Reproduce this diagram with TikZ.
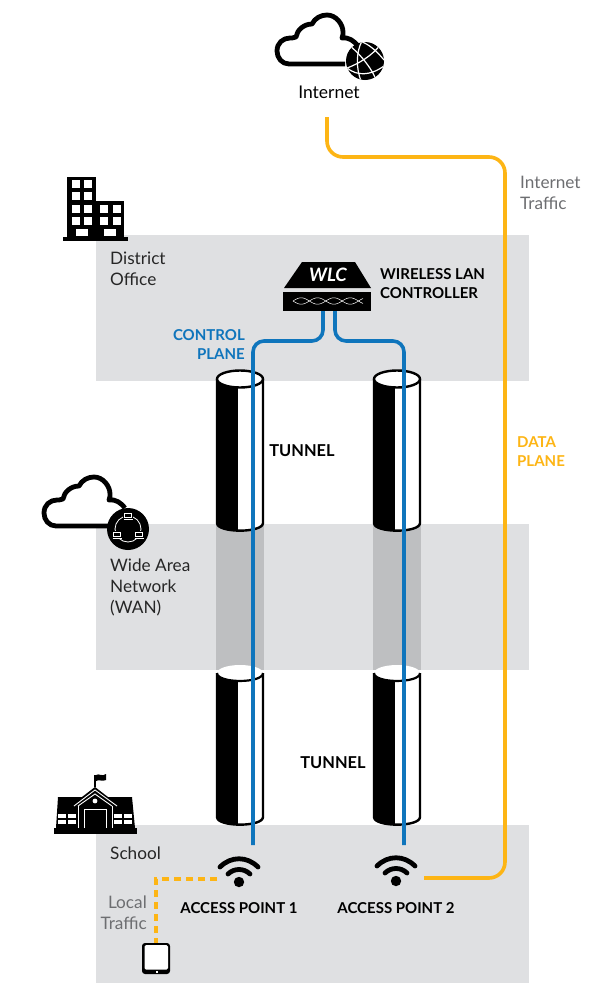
\documentclass[tikz,border=0pt]{standalone}
\usepackage{fontspec}
\usetikzlibrary{calc}
\setmainfont{Lato}
\definecolor{bandgray}{HTML}{DFE0E2}
\definecolor{darkband}{HTML}{BEBFC1}
\definecolor{ctrlblue}{HTML}{0F75BC}
\definecolor{datayellow}{HTML}{FDB515}
\definecolor{softgray}{HTML}{6D6E71}
\newcommand{\tunnelcyl}[3]{%
  \begin{scope}
    \path[clip] ({#1-23},#2) -- ({#1-23},{#3-8}) .. controls ({#1-23},{#3+2.2}) and ({#1+23},{#3+2.2}) .. ({#1+23},{#3-8}) -- ({#1+23},#2) -- cycle;
    \fill[white] ({#1-24},{#2-1}) rectangle ({#1+24},{#3+3});
    \fill[black] ({#1-24},{#2-1}) rectangle ({#1-2.5},{#3+3});
  \end{scope}
  \draw[black,line width=2.4pt] ({#1-23},#2) -- ({#1-23},{#3-8}) .. controls ({#1-23},{#3+2.2}) and ({#1+23},{#3+2.2}) .. ({#1+23},{#3-8}) -- ({#1+23},#2);
}
\newcommand{\wifiicon}[2]{%
  \fill (#1,#2) circle[radius=5.2pt];
  \draw[line width=4.8pt,line cap=round] ({#1-11},{#2-8}) .. controls ({#1-5},{#2-14}) and ({#1+5},{#2-14}) .. ({#1+11},{#2-8});
  \draw[line width=4.8pt,line cap=round] ({#1-19},{#2-15}) .. controls ({#1-8},{#2-26}) and ({#1+8},{#2-26}) .. ({#1+19},{#2-15});
}
\newcommand{\cloudshape}{%
  \draw[line width=4.8pt,line join=round] (345,64) -- (289,64) .. controls (282,64) and (277,58) .. (277,51) .. controls (277,43) and (283,38) .. (290,38) .. controls (291,38) and (294,38) .. (296,37) .. controls (297,30) and (304,24) .. (312,24) .. controls (315,18) and (321,15) .. (327,15) .. controls (336,15) and (343,24) .. (343,32) .. controls (343,34) and (343,36) .. (342,38) .. controls (349,37) and (354,41) .. (358,46);
}
\tikzset{
  band/.style={fill=bandgray,draw=none},
  label text/.style={font=\fontsize{17.2}{21}\selectfont,text=black!85,align=left,inner sep=0pt},
  gray text/.style={font=\fontsize{17.2}{21}\selectfont,text=softgray,inner sep=0pt},
  caps text/.style={font=\fontsize{15}{18.5}\selectfont\bfseries,text=black,inner sep=0pt,align=left},
  ctrl line/.style={draw=ctrlblue,line width=3.6pt,rounded corners=11pt},
  data line/.style={draw=datayellow,line width=3.6pt,rounded corners=16pt},
  local line/.style={draw=datayellow,line width=3.6pt,dash pattern=on 7pt off 5pt},
  anchor box/.style={draw=none,inner sep=0pt,outer sep=0pt}
}
\begin{document}
\begin{tikzpicture}[x=1pt,y=-1pt]
\useasboundingbox (0,0) rectangle (591,983);
\fill[white] (0,0) rectangle (591,983);
% bands
\path[band] (96,235) rectangle (529,381);
\path[band] (96,524) rectangle (529,670);
\path[band] (96,825) rectangle (529,983);
\fill[darkband] (216,524) rectangle (264,670);
\fill[darkband] (373,524) rectangle (421,670);
% upper cylinders
\tunnelcyl{240}{379}{531}
\tunnelcyl{397}{379}{531}
\foreach \cx in {240,397}{
  \draw[black,line width=2.4pt,fill=white] (\cx,379) ellipse[x radius=23pt,y radius=8.5pt];
}
% lower cylinders
\tunnelcyl{240}{673}{825}
\tunnelcyl{397}{673}{825}
\foreach \cx in {240,397}{
  \fill[white] (\cx,673) ellipse[x radius=23pt,y radius=8pt];
  \draw[black,line width=2.2pt] ({\cx-23},673) .. controls ({\cx-23},683.6) and ({\cx+23},683.6) .. ({\cx+23},673);
}
% WLC
\fill (302,262) -- (355,262) -- (371,288) -- (284,288) -- cycle;
\node[anchor box,fill=black,minimum width=88pt,minimum height=19pt] (wlcbase) at (327,301.5) {};
\node[inner sep=0pt,text=white,font=\fontsize{18.5}{18.5}\selectfont\bfseries\itshape] (wlctext) at (328,275) {WLC};
\draw[white,line width=.5pt] plot[domain=293:363,samples=80,smooth] (\x,{301+3.2*sin(11*(\x-293))});
\draw[white,line width=.5pt] plot[domain=293:363,samples=80,smooth] (\x,{301-3.2*sin(11*(\x-293))});
\node[caps text,anchor=north west] (wlclabel) at (380,268.5) {WIRELESS LAN\\CONTROLLER};
% anchors for icons
\node[anchor box,minimum width=42pt,minimum height=30pt] (ap1) at (239,872) {};
\node[anchor box,minimum width=42pt,minimum height=30pt] (ap2) at (396,871) {};
\node[anchor box,minimum width=28pt,minimum height=31pt] (tablet) at (156,958.5) {};
\node[inner sep=0pt,font=\fontsize{17.5}{20}\selectfont,text=black] (internet) at (329,92) {Internet};
\coordinate (datastart) at (327,117);
\coordinate (ap1stub) at (217,879);
\coordinate (ap2stub) at (424,878);
% connectors
\draw[ctrl line] ($(wlcbase.south)+(-4,0)$) |- (253,341) -- (253,845);
\draw[ctrl line] ($(wlcbase.south)+(8,0)$) |- (404,341) -- (404,845);
\draw[data line] (datastart) |- (505,157) |- (ap2stub);
\draw[local line] (ap1stub) -- (156,879) -- (tablet.north);
% wifi
\wifiicon{239}{882}
\wifiicon{396}{881}
% tablet
\fill[black,rounded corners=3pt] (142,943) rectangle (170,974);
\fill[white,rounded corners=1.5pt] (144.5,945) rectangle (168,969.5);
\fill[white] (155.8,970.8) rectangle (157.6,973);
% internet cloud and globe
\cloudshape
\fill (365,61) circle[radius=19pt];
\begin{scope}
  \clip (365,61) circle[radius=19pt];
  \draw[white,line width=1.2pt] (347,68) .. controls (358,64) and (372,56) .. (381,44);
  \draw[white,line width=1.2pt] (350,46) .. controls (358,52) and (372,68) .. (376,80);
  \draw[white,line width=1.2pt] (362,41) .. controls (356,52) and (356,68) .. (361,81);
  \draw[white,line width=1.2pt] (347,68) .. controls (357,76) and (370,76) .. (384,66);
  \draw[white,line width=1.2pt] (362,42) .. controls (368,44) and (376,50) .. (384,60);
\end{scope}
% WAN cloud
\begin{scope}[shift={(-233,462)}]
  \cloudshape
\end{scope}
\fill (128,529) circle[radius=21pt];
\draw[white,line width=.8pt] (128,529) circle[radius=13pt];
\foreach \lx/\ly in {128/516,117/535,139/535}{
  \fill[black] ({\lx-5},{\ly-4}) rectangle ({\lx+5},{\ly+4});
  \draw[white,line width=.7pt] ({\lx-3.5},{\ly-2.5}) rectangle ({\lx+3.5},{\ly+1.5});
  \draw[white,line width=.8pt] ({\lx-4.5},{\ly+3}) -- ({\lx+4.5},{\ly+3});
}
% building
\fill (67,177) rectangle (96,237);
\fill (96,201) rectangle (124,237);
\fill (63,237) rectangle (128,241);
\foreach \wx in {72,84}{\foreach \wy in {180,192,205,217}{
  \fill[white] (\wx,\wy) rectangle ({\wx+7.5},{\wy+7.5});
}}
\foreach \wx in {100,113}{\foreach \wy in {205,217}{
  \fill[white] (\wx,\wy) rectangle ({\wx+7.5},{\wy+7.5});
}}
\fill[white] (76,229) rectangle (88,236);
\fill[white] (104,229) rectangle (116,236);
% school
\fill (54,828) rectangle (137,834);
\fill (56,828) -- (58,797) -- (82,797) -- (95,787) -- (108,797) -- (132,797) -- (135,828) -- cycle;
\draw[line width=1.2pt] (95,787) -- (95,775);
\fill (96,775) .. controls (99,773) and (102,777) .. (106,774) -- (106,780) .. controls (102,782) and (99,779) .. (96,781) -- cycle;
\draw[white,line width=.9pt] (74,806) -- (95,790) -- (117,806);
\draw[white,line width=.9pt] (78,806) -- (78,828) (112,806) -- (112,828);
\draw[white,line width=.9pt] (78,806) -- (95,794) -- (112,806);
\draw[white,line width=.9pt] (84,828) -- (84,809) -- (106,809) -- (106,828);
\fill[white] (95,801) circle[radius=2.4pt];
\foreach \wx in {58,68,114,124}{\foreach \wy in {814,820}{
  \fill[white] (\wx,\wy) rectangle ({\wx+8},{\wy+4});
}}
% labels
\node[label text,anchor=north west] (district) at (110,251.5) {District\\Office};
\node[label text,anchor=north west] (wan) at (110,558.5) {Wide Area\\Network\\(WAN)};
\node[label text,anchor=west] (school) at (110,853) {School};
\node[gray text,align=left,anchor=north west] (inet) at (520,175.5) {Internet\\Traffic};
\node[gray text,align=right,anchor=north east] (local) at (147,896) {Local\\Traffic};
\node[caps text,text=ctrlblue,align=right,anchor=north east] (ctrl) at (245,329.5) {CONTROL\\PLANE};
\node[caps text,text=datayellow,anchor=north west] (data) at (517,436.5) {DATA\\PLANE};
\node[caps text,font=\fontsize{16.4}{18}\selectfont\bfseries] (t1) at (302,451) {TUNNEL};
\node[caps text,font=\fontsize{16.4}{18}\selectfont\bfseries] (t2) at (333,763) {TUNNEL};
\node[caps text] (ap1label) at (239,908.5) {ACCESS POINT 1};
\node[caps text] (ap2label) at (396,908.5) {ACCESS POINT 2};
\end{tikzpicture}
\end{document}
